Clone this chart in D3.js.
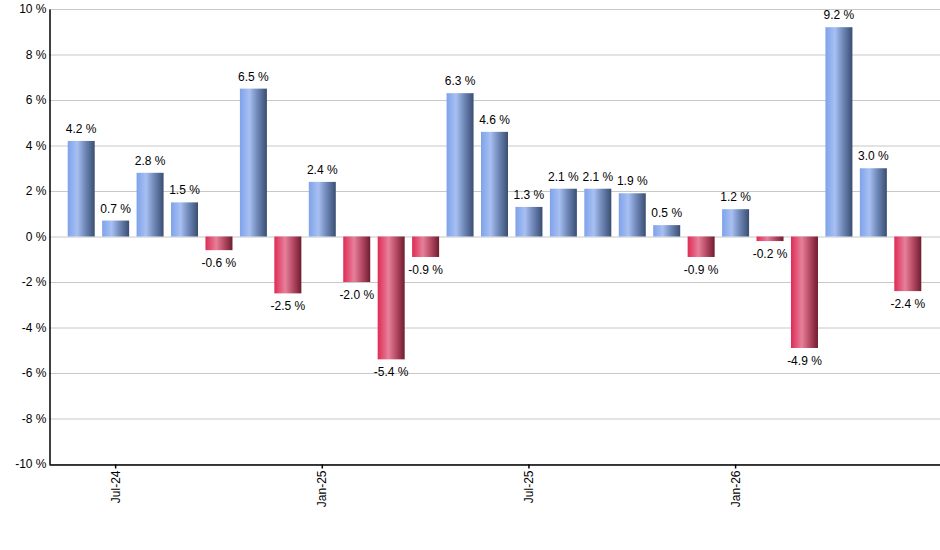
<!DOCTYPE html>
<html><head><meta charset="utf-8">
<script src="https://cdn.jsdelivr.net/npm/d3@7"></script>
<style>body{margin:0;background:#fff}svg{display:block}text{font-family:"Liberation Sans",Arial,sans-serif;font-size:12px;fill:#000}</style>
</head><body><svg id="c" width="940" height="550"></svg>
<script>
const months = ["Jun-24","Jul-24","Aug-24","Sep-24","Oct-24","Nov-24","Dec-24","Jan-25","Feb-25","Mar-25","Apr-25","May-25","Jun-25","Jul-25","Aug-25","Sep-25","Oct-25","Nov-25","Dec-25","Jan-26","Feb-26","Mar-26","Apr-26","May-26","Jun-26"];
const values = [4.2,0.7,2.8,1.5,-0.6,6.5,-2.5,2.4,-2.0,-5.4,-0.9,6.3,4.6,1.3,2.1,2.1,1.9,0.5,-0.9,1.2,-0.2,-4.9,9.2,3.0,-2.4];
const xTickLabels = ["Jul-24","Jan-25","Jul-25","Jan-26"];
const yTicks = [-10,-8,-6,-4,-2,0,2,4,6,8,10];

const svg = d3.select("#c");
const L=49, R=940, T=9, B=464;
const x = d3.scaleBand().domain(months).range([L,R]).paddingInner(0.216).paddingOuter(0.543);
const y = d3.scaleLinear().domain([-10,10]).range([B,T]);

const defs = svg.append("defs");
function grad(id, stops){
  const g = defs.append("linearGradient").attr("id",id).attr("x1","0%").attr("x2","100%").attr("y1","0%").attr("y2","0%");
  stops.forEach(s=>g.append("stop").attr("offset",s[0]).attr("stop-color",s[1]));
}
grad("gb",[["0%","#7ea2ea"],["35%","#a8c0f2"],["65%","#6f88b8"],["100%","#3a4e72"]]);
grad("gr",[["0%","#df2b55"],["40%","#e6809a"],["70%","#b44862"],["100%","#6e1d30"]]);

// grid
svg.append("g").selectAll("line").data(yTicks).join("line")
  .attr("x1",L).attr("x2",R).attr("y1",d=>y(d)+0.5).attr("y2",d=>y(d)+0.5)
  .attr("stroke","#c8c8c8").attr("stroke-width",1);

// bars
svg.append("g").selectAll("rect").data(values).join("rect")
  .attr("x",(d,i)=>x(months[i])).attr("width",x.bandwidth())
  .attr("y",d=>y(Math.max(0,d))).attr("height",d=>Math.abs(y(d)-y(0)))
  .attr("fill",d=>d>=0?"url(#gb)":"url(#gr)");

// value labels
svg.append("g").selectAll("text").data(values).join("text")
  .attr("x",(d,i)=>x(months[i])+x.bandwidth()/2)
  .attr("y",d=>d>=0?y(d)-8:y(d)+17)
  .attr("text-anchor","middle")
  .text(d=>d.toFixed(1)+" %");

// y axis
const ya = svg.append("g").attr("transform",`translate(${L+0.5},0)`)
  .call(d3.axisLeft(y).tickValues(yTicks).tickSize(0).tickPadding(3).tickFormat(d=>d+" %"));
ya.select(".domain").attr("stroke","#000").attr("stroke-width",1.5);
ya.selectAll("text").attr("fill","#000").style("font-size","12px").style("font-family","'Liberation Sans',Arial,sans-serif");

// x axis
const xa = svg.append("g").attr("transform",`translate(0,${B+0.5})`)
  .call(d3.axisBottom(x).tickValues(xTickLabels).tickSize(4).tickSizeOuter(0));
xa.select(".domain").attr("stroke","#000").attr("stroke-width",1.5);
xa.selectAll(".tick line").attr("stroke","#000").attr("stroke-width",1.5);
xa.selectAll("text").attr("fill","#000").attr("transform","rotate(-90)").attr("text-anchor","end")
  .attr("x",-6).attr("y",0).attr("dy","0.35em")
  .style("font-size","12px").style("font-family","'Liberation Sans',Arial,sans-serif");
</script></body></html>
